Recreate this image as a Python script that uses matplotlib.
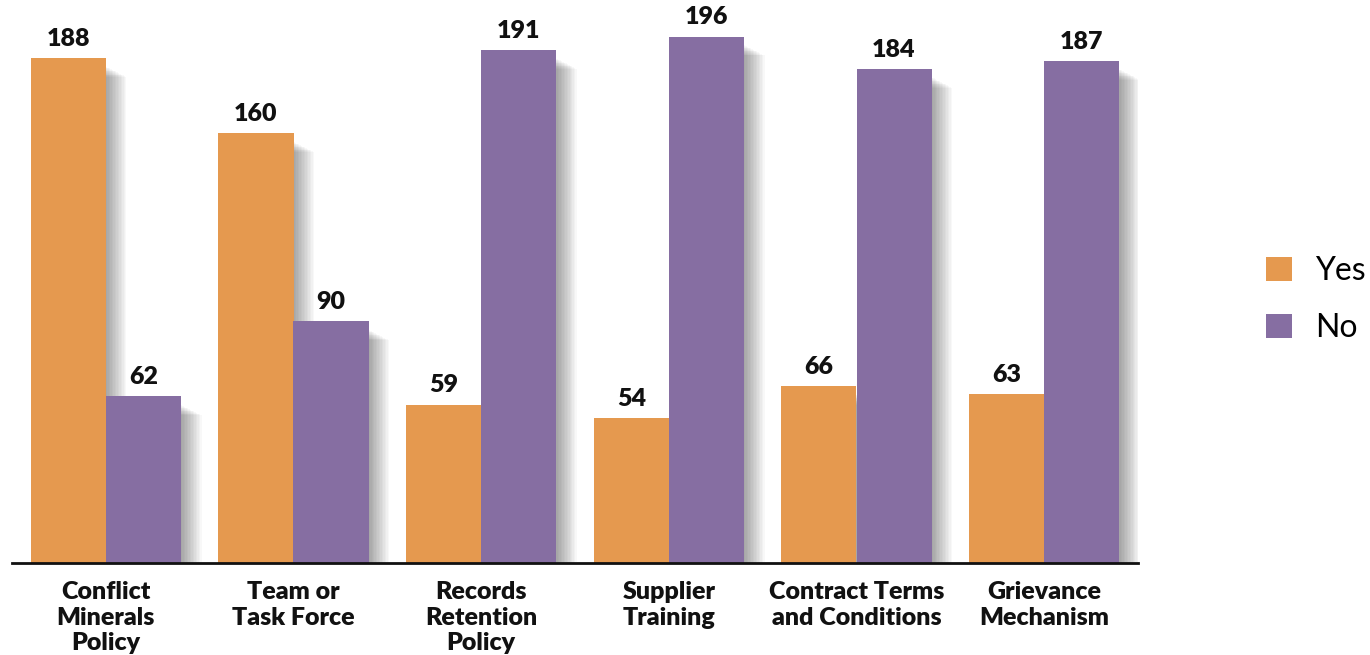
import matplotlib
matplotlib.use("Agg")
import matplotlib.pyplot as plt
from matplotlib.patches import Rectangle
import numpy as np

categories = ["Conflict\nMinerals\nPolicy", "Team or\nTask Force", "Records\nRetention\nPolicy",
              "Supplier\nTraining", "Contract Terms\nand Conditions", "Grievance\nMechanism"]
yes_vals = [188, 160, 59, 54, 66, 63]
no_vals = [62, 90, 191, 196, 184, 187]
series_names = ["Yes", "No"]
colors = ["#E5994F", "#866EA2"]

fig = plt.figure(figsize=(13.7, 6.55), dpi=100)
ax = fig.add_axes([12/1370, (655-563)/655, 1126/1370, 563/655])

x = np.arange(len(categories))
w = 0.4

# soft shadows to the right of each bar
for vals, off in ((yes_vals, -w/2), (no_vals, w/2)):
    for xi, v in zip(x, vals):
        right = xi + off + w/2
        n = 14
        for k in range(n):
            ext = 0.11 * (k + 1) / n
            ax.add_patch(Rectangle((right - 0.02, 0), ext + 0.02, v - 3 - 4 * (k + 1) / n,
                                   facecolor="black", alpha=0.028, lw=0, zorder=1))

b1 = ax.bar(x - w/2, yes_vals, w, color=colors[0], label=series_names[0], zorder=3)
b2 = ax.bar(x + w/2, no_vals, w, color=colors[1], label=series_names[1], zorder=3)

for bars, vals in ((b1, yes_vals), (b2, no_vals)):
    for r, v in zip(bars, vals):
        ax.text(r.get_x() + r.get_width()/2, v + 3, str(v), ha="center", va="bottom",
                fontsize=18, fontweight="heavy", family="Lato", color="#111111", zorder=4)

ax.set_xlim(-0.5, len(categories) - 0.5)
ax.set_ylim(0, 209.6)
ax.set_xticks(x)
ax.set_xticklabels(categories, fontsize=18, fontweight="heavy", family="Lato",
                   color="#111111", linespacing=1.2)
ax.tick_params(axis="x", length=0, pad=13)
ax.set_yticks([])
for s in ("top", "right", "left"):
    ax.spines[s].set_visible(False)
ax.spines["bottom"].set_linewidth(2)
ax.spines["bottom"].set_color("#111111")
ax.spines["bottom"].set_zorder(5)

leg = fig.legend(handles=[b1, b2], labels=series_names, loc="upper left",
                 bbox_to_anchor=(1266/1370, 1 - 256/655), frameon=False,
                 prop={"family": "Lato", "size": 23}, handlelength=0.8, handleheight=0.8,
                 handletextpad=0.75, labelspacing=0.85, borderaxespad=0, borderpad=0)

fig.savefig("out.png", dpi=100)
